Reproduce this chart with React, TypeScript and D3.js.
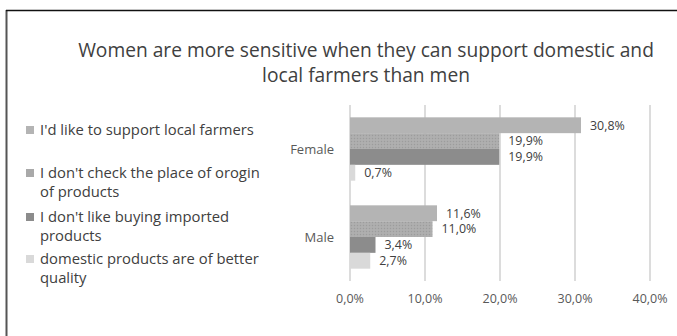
import React from "react";
import * as d3 from "d3";

const categories = ["Female", "Male"];
const seriesNames = [
  "I'd like to support local farmers",
  "I don't check the place of orogin of products",
  "I don't like buying imported products",
  "domestic products are of better quality",
];
const legendLines = [
  ["I'd like to support local farmers"],
  ["I don't check the place of orogin", "of products"],
  ["I don't like buying imported", "products"],
  ["domestic products are of better", "quality"],
];
const femaleValues = [30.8, 19.9, 19.9, 0.7];
const maleValues = [11.6, 11.0, 3.4, 2.7];
const tickValues = [0, 10, 20, 30, 40];
const titleLines = [
  "Women are more sensitive when they can support domestic and",
  "local farmers than men",
];
const colors = ["#b4b4b4", "url(#dots)", "#8c8c8c", "#d9d9d9"];
const legendColors = ["#b4b4b4", "#a9a9a9", "#8c8c8c", "#d9d9d9"];

const fmt = (v: number) => v.toFixed(1).replace(".", ",") + "%";

export default function App() {
  const W = 677, H = 336;
  const values = [femaleValues, maleValues];
  const x = d3.scaleLinear().domain([0, 40]).range([350, 650]);
  const y = d3.scaleBand().domain(categories).range([105, 281]).paddingInner(0.28).paddingOuter(0.14);
  const sub = d3.scaleBand().domain(seriesNames.map((_, i) => String(i))).range([0, y.bandwidth()]);
  const font = "'Open Sans', sans-serif";
  const legendY = [130, 173, 217, 259];
  return (
    <svg width={W} height={H} style={{ position: "absolute", left: 0, top: 0, background: "#fff" }}>
      <defs>
        <pattern id="dots" width="3" height="3" patternUnits="userSpaceOnUse">
          <rect width="3" height="3" fill="#acacac" />
          <rect x="0" y="0" width="1" height="1" fill="#9c9c9c" />
          <rect x="1.5" y="1.5" width="1" height="1" fill="#b8b8b8" />
        </pattern>
      </defs>
      <rect x={0} y={0} width={W} height={H} fill="#fff" />
      <line x1={6.5} x2={6.5} y1={10} y2={H} stroke="#555" strokeWidth={2} />
      <line x1={6} x2={W} y1={10.5} y2={10.5} stroke="#111" strokeWidth={1.5} />
      {titleLines.map((t, i) => (
        <text key={i} x={366} y={56.5 + i * 25} textAnchor="middle" fontFamily={font} fontSize={19.2} fill="#404040">{t}</text>
      ))}
      {tickValues.map((t) => (
        <g key={t}>
          <line x1={x(t)} x2={x(t)} y1={105} y2={281} stroke="#d0d0d0" strokeWidth={1.5} />
          <text x={x(t)} y={303} textAnchor="middle" fontFamily={font} fontSize={12.5} fill="#595959">{fmt(t)}</text>
        </g>
      ))}
      {categories.map((c, ci) => (
        <g key={c}>
          <text x={334} y={(y(c) as number) + y.bandwidth() / 2 + 4.5} textAnchor="end" fontFamily={font} fontSize={13} fill="#595959">{c}</text>
          {values[ci].map((v, si) => {
            const by = (y(c) as number) + (sub(String(si)) as number);
            return (
              <g key={si}>
                <rect x={x(0)} y={by} width={x(v) - x(0)} height={sub.bandwidth()} fill={colors[si]} />
                <text x={x(v) + 9} y={by + sub.bandwidth() / 2 + 4.3} fontFamily={font} fontSize={12.4} fill="#404040">{fmt(v)}</text>
              </g>
            );
          })}
        </g>
      ))}
      {legendLines.map((lines, i) => (
        <g key={i}>
          <rect x={26} y={legendY[i] - 4} width={8} height={8} fill={legendColors[i]} />
          {lines.map((l, j) => (
            <text key={j} x={40} y={legendY[i] + 5 + j * 19} fontFamily={font} fontSize={14.8} fill="#404040">{l}</text>
          ))}
        </g>
      ))}
    </svg>
  );
}
